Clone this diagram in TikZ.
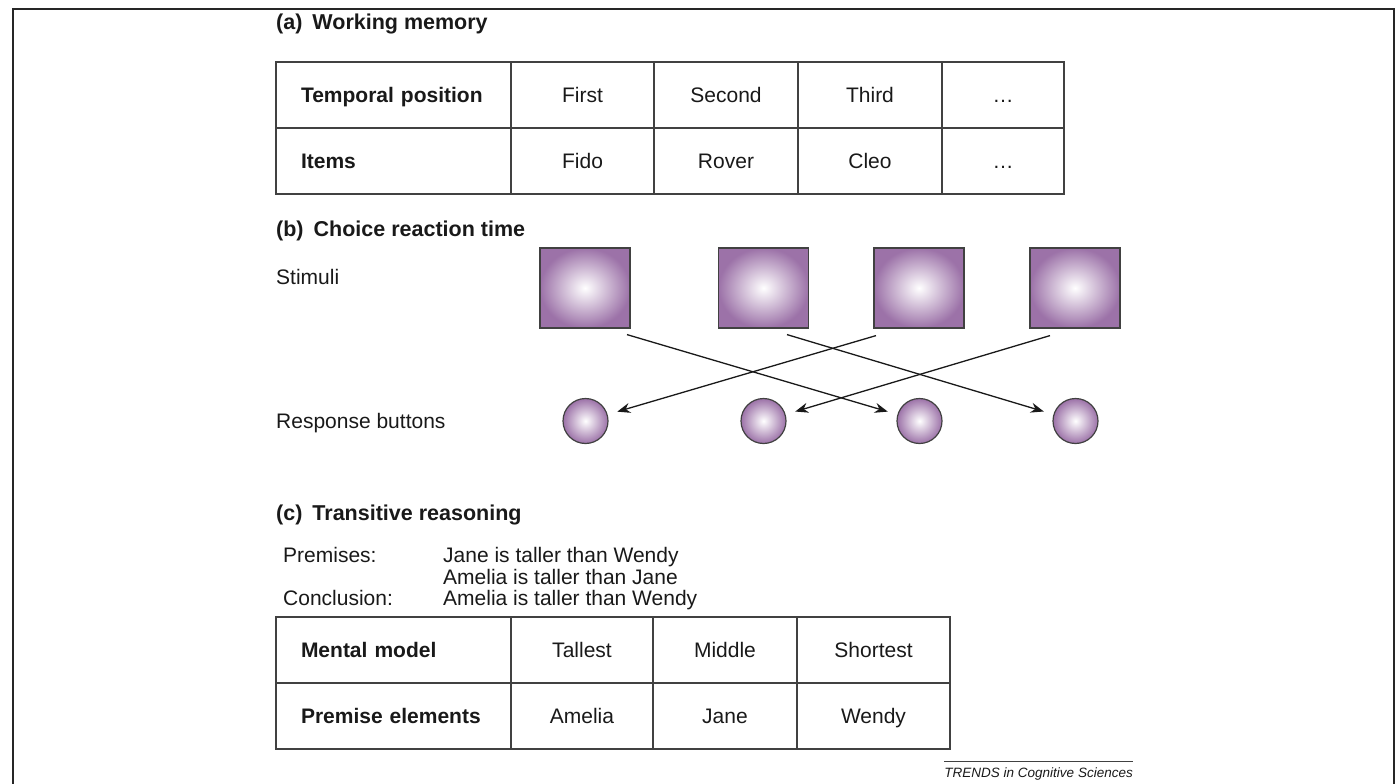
\documentclass[tikz,border=0pt]{standalone}
\usepackage{fontspec}
\setmainfont{Liberation Sans}
\usepackage{xcolor}
\usetikzlibrary{
    arrows.meta,
    positioning
}
\definecolor{ink}{RGB}{25,25,25}
\definecolor{gridgray}{RGB}{65,65,65}
\definecolor{stimpurple}{RGB}{156,114,168}
\tikzset{
    frame/.style={draw=black!85, line width=2pt},
    heading/.style={anchor=base west, inner sep=0pt, font=\fontsize{21.5}{26}\selectfont\bfseries},
    plain/.style={anchor=base west, inner sep=0pt},
    cell/.style={draw=gridgray, line width=1.3pt, minimum height=66pt,
        text height=15pt, text depth=0pt,
        inner sep=0pt, outer sep=0pt, anchor=north west},
    labelcell/.style={cell, font=\fontsize{21}{25}\selectfont\bfseries,
        text width=185pt, inner xsep=25pt, align=left},
    stimbox/.style={draw=gridgray, line width=1.2pt, shading=radial,
        inner color=white, outer color=stimpurple,
        minimum width=90pt, minimum height=80pt, inner sep=0pt},
    button/.style={circle, draw=gridgray, line width=1.2pt, shading=radial,
        inner color=white, outer color=stimpurple,
        minimum size=45pt, inner sep=0pt},
    link/.style={draw=ink, line width=1.3pt,
        -{Stealth[length=13pt,width=10pt]}, shorten >=10pt},
    footer/.style={anchor=base east, inner xsep=0pt, inner ysep=6pt,
        font=\fontsize{13.5}{16}\selectfont\itshape},
}

\begin{document}
\begin{tikzpicture}[x=1pt,y=-1pt,font=\fontsize{21}{25}\selectfont,text=ink]
    \useasboundingbox (0,0) rectangle (1395,784);
    \draw[frame] (12.5,785) -- (12.5,9.5) -- (1394,9.5) -- (1394,785);

    % (a) working memory
    \node[heading] (ha) at (276,29.5) {(a)\hspace{10pt}Working memory};
    \node[labelcell] (tp) at (276,62) {Temporal position};
    \node[cell, minimum width=143pt, right=0pt of tp] (first) {First};
    \node[cell, minimum width=144pt, right=0pt of first] (second) {Second};
    \node[cell, minimum width=144pt, right=0pt of second] (third) {Third};
    \node[cell, minimum width=122pt, right=0pt of third] (more) {…};
    \node[labelcell, below=0pt of tp] (items) {Items};
    \node[cell, minimum width=143pt, below=0pt of first] (fido) {Fido};
    \node[cell, minimum width=144pt, below=0pt of second] (rover) {Rover};
    \node[cell, minimum width=144pt, below=0pt of third] (cleo) {Cleo};
    \node[cell, minimum width=122pt, below=0pt of more] (moreitems) {…};

    % (b) choice reaction time
    \node[heading] (hb) at (276,236.5) {(b)\hspace{10pt}Choice reaction time};
    \node[plain] (stimuli) at (276,284.5) {Stimuli};
    \node[stimbox] (s_1) at (585,288) {};
    \node[stimbox] (s_2) at (763.5,288) {};
    \node[stimbox] (s_3) at (919,288) {};
    \node[stimbox] (s_4) at (1075,288) {};
    \node[plain] (responses) at (276,428.5) {Response buttons};
    \node[button] (b_1) at (585.5,421) {};
    \node[button] (b_2) at (763.5,421) {};
    \node[button] (b_3) at (919.5,421) {};
    \node[button] (b_4) at (1075.5,421) {};
    \coordinate (o_1) at ([shift={(42,6)}]s_1.south);
    \coordinate (o_2) at ([shift={(23.5,6)}]s_2.south);
    \coordinate (o_3) at ([shift={(-43,7)}]s_3.south);
    \coordinate (o_4) at ([shift={(-25,7)}]s_4.south);
    \path
    (o_1) edge[link] (b_3)
    (o_2) edge[link] (b_4)
    (o_3) edge[link] (b_1)
    (o_4) edge[link] (b_2);

    % (c) transitive reasoning
    \node[heading] (hc) at (276,520.5) {(c)\hspace{10pt}Transitive reasoning};
    \node[plain] (premises) at (283,562.5) {Premises:};
    \node[plain] (p_1) at (443,562.5) {Jane is taller than Wendy};
    \node[plain] (p_2) at (443,584) {Amelia is taller than Jane};
    \node[plain] (conclusion) at (283,605.5) {Conclusion:};
    \node[plain] (c_1) at (443,605.5) {Amelia is taller than Wendy};
    \node[labelcell] (mm) at (276,617) {Mental model};
    \node[cell, minimum width=142pt, right=0pt of mm] (tallest) {Tallest};
    \node[cell, minimum width=144pt, right=0pt of tallest] (middle) {Middle};
    \node[cell, minimum width=153pt, right=0pt of middle] (shortest) {Shortest};
    \node[labelcell, below=0pt of mm] (pe) {Premise elements};
    \node[cell, minimum width=142pt, below=0pt of tallest] (amelia) {Amelia};
    \node[cell, minimum width=144pt, below=0pt of middle] (jane) {Jane};
    \node[cell, minimum width=153pt, below=0pt of shortest] (wendy) {Wendy};

    % source line
    \node[footer] (src) at (1133,777) {TRENDS in Cognitive Sciences};
    \draw[draw=gridgray, line width=0.8pt] (src.north west) -- (src.north east);
\end{tikzpicture}
\end{document}
